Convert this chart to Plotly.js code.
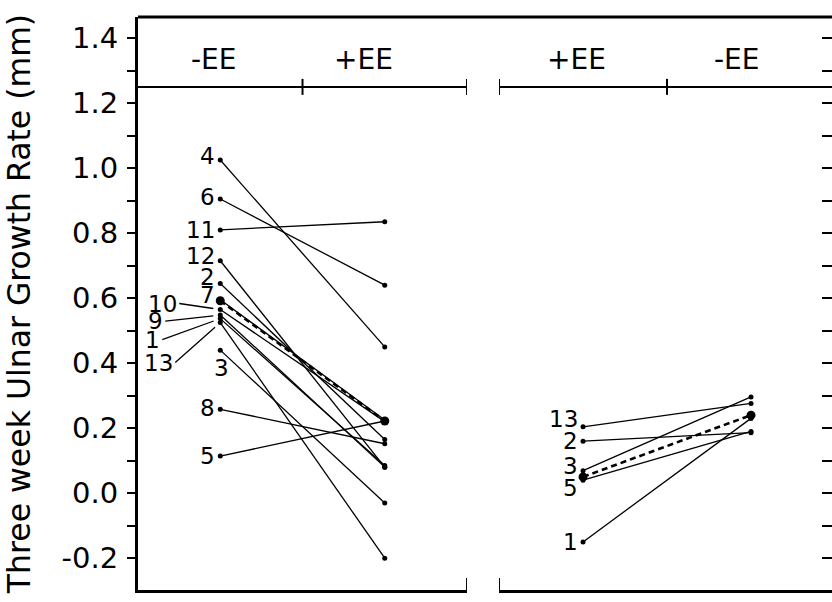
<!DOCTYPE html>
<html>
<head>
<meta charset="utf-8">
<script src="https://cdn.plot.ly/plotly-3.0.1.min.js"></script>
<style>
  html, body { margin: 0; padding: 0; background: #fff; }
  #chart { width: 832px; height: 602px; }
</style>
</head>
<body>
<div id="chart"></div>
<script>
// ---------------- data ----------------
const conditionX = [0.25, 0.75];

// left panel: subjects measured -EE then +EE
const leftIds      = ['4', '6', '11', '12', '2', '7', '10', '9', '1', '13', '3', '8', '5'];
const leftMinusEE  = [1.025, 0.905, 0.81, 0.715, 0.645, 0.595, 0.565, 0.548, 0.537, 0.525, 0.44, 0.258, 0.114];
const leftPlusEE   = [0.45, 0.64, 0.835, 0.08, 0.165, 0.225, 0.22, 0.08, 0.085, -0.2, -0.03, 0.152, 0.222];
const leftMean     = [0.592, 0.222];
const leftHeaders  = ['-EE', '+EE'];

// right panel: subjects measured +EE then -EE
const rightIds     = ['13', '2', '3', '5', '1'];
const rightPlusEE  = [0.204, 0.16, 0.069, 0.04, -0.15];
const rightMinusEE = [0.276, 0.186, 0.296, 0.19, 0.23];
const rightMean    = [0.05, 0.24];
const rightHeaders = ['+EE', '-EE'];

const yTickVals = [-0.2, 0.0, 0.2, 0.4, 0.6, 0.8, 1.0, 1.2, 1.4];
const yTickText = ['-0.2', '0.0', '0.2', '0.4', '0.6', '0.8', '1.0', '1.2', '1.4'];
const yTitle = 'Three week Ulnar Growth Rate (mm)';
const headerLevel = 1.25;

// ---------------- label placement (pixels) ----------------
const leftLabelPlace = {
  '4': {dy: 4}, '6': {dy: 2}, '11': {dy: 0}, '12': {dy: 5}, '2': {dy: 7},
  '7': {dy: 5}, '3': {dx: 1, dy: -18, center: true}, '8': {dy: 1}, '5': {dy: 0},
  '10': {ax: -41, ay: -6}, '9': {ax: -55, ay: 6}, '1': {ax: -58, ay: 21}, '13': {ax: -45, ay: 40}
};
const rightLabelPlace = {
  '13': {dy: 8}, '2': {dy: 0}, '3': {dy: 5}, '5': {dy: -8}, '1': {dy: 0}
};

const FONT = 'DejaVu Sans, sans-serif';
const traces = [];
const annotations = [];

function addPanel(ids, first, second, mean, xa, ya, place) {
  ids.forEach((id, i) => {
    traces.push({
      type: 'scatter', mode: 'lines+markers',
      x: conditionX, y: [first[i], second[i]],
      xaxis: xa, yaxis: ya,
      line: {color: '#000', width: 1.3},
      marker: {color: '#000', size: 5},
      hoverinfo: 'skip', showlegend: false
    });
    const p = place[id] || {};
    if (p.ax !== undefined) {
      annotations.push({
        xref: xa, yref: ya, x: conditionX[0], y: first[i],
        text: id, showarrow: true, arrowhead: 0, arrowwidth: 1.3, arrowcolor: '#000',
        ax: p.ax, ay: p.ay, standoff: 7, xanchor: 'right', yanchor: 'middle',
        font: {family: FONT, size: 23, color: '#000'}
      });
    } else {
      annotations.push({
        xref: xa, yref: ya, x: conditionX[0], y: first[i],
        text: id, showarrow: false,
        xanchor: p.center ? 'center' : 'right', yanchor: 'middle',
        xshift: p.center ? (p.dx || 0) : -3 + (p.dx || 0), yshift: p.dy || 0,
        font: {family: FONT, size: 23, color: '#000'}
      });
    }
  });
  traces.push({
    type: 'scatter', mode: 'lines+markers',
    x: conditionX, y: mean, xaxis: xa, yaxis: ya,
    line: {color: '#000', width: 2.6, dash: '6px,4px'},
    marker: {color: '#000', size: 9},
    hoverinfo: 'skip', showlegend: false
  });
}

addPanel(leftIds, leftMinusEE, leftPlusEE, leftMean, 'x', 'y', leftLabelPlace);
addPanel(rightIds, rightPlusEE, rightMinusEE, rightMean, 'x2', 'y2', rightLabelPlace);

// header labels
const headerShift = {x: [-6, -21], x2: [-7, -14]};
leftHeaders.forEach((t, i) => annotations.push({
  xref: 'x', yref: 'y', x: conditionX[i], y: 1.335, text: t, showarrow: false,
  xshift: headerShift.x[i], font: {family: FONT, size: 28, color: '#000'}
}));
rightHeaders.forEach((t, i) => annotations.push({
  xref: 'x2', yref: 'y2', x: conditionX[i], y: 1.335, text: t, showarrow: false,
  xshift: headerShift.x2[i], font: {family: FONT, size: 28, color: '#000'}
}));

const YR = [-0.298, 1.465];
const shapes = [
  // top frame line
  {type: 'line', xref: 'paper', yref: 'paper', x0: 0, x1: 1, y0: 1, y1: 1, line: {color: '#000', width: 3}},
  // header separators
  {type: 'line', xref: 'x', yref: 'y', x0: 0, x1: 1, y0: headerLevel, y1: headerLevel, line: {color: '#000', width: 2}},
  {type: 'line', xref: 'x2', yref: 'y2', x0: 0, x1: 1, y0: headerLevel, y1: headerLevel, line: {color: '#000', width: 2}},
  // bottom end ticks of the panels
  {type: 'line', xref: 'x', yref: 'paper', ysizemode: 'pixel', yanchor: 0, x0: 1, x1: 1, y0: 0, y1: 12, line: {color: '#000', width: 2}},
  {type: 'line', xref: 'x2', yref: 'paper', ysizemode: 'pixel', yanchor: 0, x0: 0, x1: 0, y0: 0, y1: 12, line: {color: '#000', width: 2}}
];
[['x', 0.5], ['x', 1], ['x2', 0], ['x2', 0.5]].forEach(([xr, xv]) => shapes.push({
  type: 'line', xref: xr, yref: xr === 'x' ? 'y' : 'y2', ysizemode: 'pixel', yanchor: headerLevel,
  x0: xv, x1: xv, y0: -8, y1: 8, line: {color: '#000', width: 2}
}));

const layout = {
  width: 832, height: 602,
  margin: {l: 138, r: 0, t: 17, b: 12},
  paper_bgcolor: '#fff', plot_bgcolor: '#fff',
  showlegend: false,
  font: {family: FONT, color: '#000'},
  xaxis: {domain: [0, 0.4741], range: [0, 1], showgrid: false, zeroline: false,
          showticklabels: false, ticks: '', showline: true, linewidth: 3, linecolor: '#000', fixedrange: true},
  xaxis2: {domain: [0.5202, 1], range: [0, 0.991], anchor: 'y2', showgrid: false, zeroline: false,
           showticklabels: false, ticks: '', showline: true, linewidth: 3, linecolor: '#000', fixedrange: true},
  yaxis: {range: YR, showgrid: false, zeroline: false, showline: true, linewidth: 3, linecolor: '#000',
          tickvals: yTickVals, ticktext: yTickText, ticks: 'outside', ticklen: 8, tickwidth: 2, tickcolor: '#000',
          ticklabelstandoff: 3,
          minor: {dtick: 0.1, tick0: 0, ticks: 'outside', ticklen: 8, tickwidth: 2, tickcolor: '#000', showgrid: false},
          tickfont: {family: FONT, size: 29, color: '#000'},
          title: {text: yTitle, standoff: 22, font: {family: FONT, size: 31.5, color: '#000'}},
          automargin: false, fixedrange: true},
  yaxis2: {range: YR, anchor: 'x2', side: 'right', showgrid: false, zeroline: false, showline: false,
           showticklabels: false, tickmode: 'linear', tick0: 0, dtick: 0.1,
           ticks: 'inside', ticklen: 10, tickwidth: 2, tickcolor: '#000', fixedrange: true},
  shapes: shapes,
  annotations: annotations
};

Plotly.newPlot('chart', traces, layout, {displayModeBar: false, staticPlot: true});
</script>
</body>
</html>
